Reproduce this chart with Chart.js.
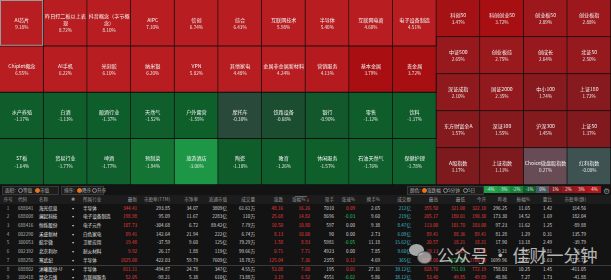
<!DOCTYPE html>
<html>
<head>
<meta charset="utf-8">
<script src="https://cdn.jsdelivr.net/npm/chart.js@4.4.0/dist/chart.umd.min.js"></script>
<style>
  body { margin:0; width:611px; height:280px; overflow:hidden; background:#131313; font-family:"Noto Sans CJK SC", sans-serif; position:relative; }
  #map { position:absolute; left:0; top:0; }
  .t { position:absolute; white-space:nowrap; font-size:4.6px; line-height:7px; height:7px; color:#d8d8d8; }
  .box { position:absolute; top:186px; height:7px; border:1px solid #383838; background:#1d1d1d; }
  .radio { position:absolute; top:188px; width:3px; height:3px; border:1px solid #8a8a8a; border-radius:50%; }
  .radio.on { background:#e8741c; border-color:#e8741c; }
  .lg { position:absolute; top:186px; width:13px; height:7px; font-size:4.3px; line-height:7px; text-align:center; color:#eee; }
</style>
</head>
<body>
<canvas id="map" width="611" height="185"></canvas>
<div id="table"></div>
<script>
// 板块热力图 (左侧 4 行 x 10 列, 行优先)
const sectorNames = [
  'AI芯片','昨日打二板以上表现','抖音概念（字节概念）','AIPC','信创','综合','互联网技术','半导体','互联网电商','电子设备制造',
  'Chiplet概念','AI手机','光刻胶','纳米银','VPN','其他家电','金属非金属新材料','营销服务','基本金属','贵金属',
  '水产养殖','白酒','酿酒行业','天然气','户外露营','摩托车','铁路设备','银行','零售','饮料',
  'ST板','贸易行业','啤酒','预制菜','旅游酒店','陶瓷','教育','休闲服务','石油天然气','保健护理'
];
const sectorChanges = [
  9.18, 8.72, 8.10, 7.10, 6.74, 6.43, 5.98, 5.40, 4.60, 4.51,
  6.55, 6.22, 6.10, 6.20, 5.82, 4.48, 4.24, 4.13, 3.79, 3.72,
  -1.17, -1.13, -1.37, -1.52, -1.55, -0.30, -0.68, -0.90, -1.12, -1.17,
  -1.64, -1.77, -1.77, -1.94, -3.06, -1.18, -1.26, -1.57, -1.76, -1.78
];
// 指数 (右侧 5 行 x 4 列)
const indexNames = [
  '科创50','科创创业50','创业板50','创业板指',
  '中证500','创业板综','创成长','北证50',
  '深证成指','国证2000','中小100','上证180',
  '东方财富全A','深证100','沪深300','上证50',
  'A股指数','上证指数','Choice微盘股指数','红利指数'
];
const indexChanges = [
  3.47, 3.72, 2.89, 2.88,
  2.65, 2.75, 2.64, 2.50,
  2.10, 2.35, 1.74, 1.72,
  1.57, 1.55, 1.45, 1.37,
  1.17, 1.11, 0.27, -0.08
];
const legendTicks = ['-4%','-3%','-2%','-1%','0%','1%','2%','3%','4%'];
const legendValues = [-4, -3, -2, -1, 0, 1, 2, 3, 4];

// 个股列表
const codes = ['688041','688008','688416','002290','300053','002392','688256','688802','300418'];
const stockNames = ['海光信息','澜起科技','恒烁股份','禾盛新材','航宇微','北京利尔','寒武纪','沐曦股份-U','昆仑万维'];
const industries = ['半导体','电子设备制造','电子元件','白色家电','卫星应用','耐火材料','半导体','半导体','互联网服务'];
const latest = [344.41, 198.98, 107.73, 89.41, 19.48, 9.92, 1825.00, 811.11, 52.05];
const peTTM = ['293.85','95.09','-304.68','142.64','-37.59','26.17','422.03','-494.87','-98.21'];
const pb = ['34.07','11.67','6.72','21.94','9.60','1.88','59.79','24.78','5.38'];
const floatCap = ['3809亿','2283亿','89.42亿','222亿','125亿','119亿','7609亿','347亿','610亿'];
const volume = ['61.61万','110万','7.79万','6.74万','79.29万','99.66万','18.78万','4.55万','73.88万'];
const change = [48.16, 25.68, 10.50, 8.13, 1.58, 0.71, 125.04, 53.08, 3.19];
const changePct = [16.26, 14.82, 10.80, 10.00, 8.83, 7.71, 7.36, 7.00, 6.52];
const lastHand = ['7010','8696','597','90','5981','4923','2355','195','4551'];
const speed = [0.09, -0.03, 0.00, 0.00, -0.05, 0.00, 0.12, 0.01, -0.02];
const turnover = ['2.65','9.60','9.38','2.73','11.18','7.85','4.69','27.31','5.86'];
const amount = ['212亿','219亿','8.47亿','6.09亿','15.62亿','9.60亿','365亿','39.12亿','38.12亿'];
const high = [355.50, 205.17, 113.00, 89.41, 20.57, 10.13, 1888.00, 828.70, 53.40];
const low = [321.00, 180.01, 101.70, 88.36, 18.21, 9.25, 1676.00, 751.03, 49.85];
const open = [322.10, 190.30, 103.00, 89.41, 18.21, 9.30, 1706.00, 772.19, 49.89];
const prevClose = [296.25, 173.30, 97.23, 81.28, 17.90, 9.21, 1699.96, 758.03, 48.86];
const amplitude = ['11.65','14.52','11.62','1.29','13.18','9.45','12.47','10.25','7.27'];
const volRatio = ['1.42','1.69','1.25','0.31','2.49','2.81','1.63','1.45','1.73'];
const peStatic = ['314.56','182.04','-89.88','135.79','-39.79','26.83','4775.72','-411.05','-41.88'];

// 涨跌幅 -> 颜色
const colorStops = [
  [-4, [31,160,74]], [-3, [29,150,70]], [-2, [22,130,58]], [-1.85, [15,96,44]],
  [-1, [14,92,42]], [-0.6, [30,74,50]], [-0.2, [45,74,60]], [0, [74,88,96]],
  [0.3, [106,74,84]], [1, [122,26,30]], [2, [140,26,30]], [3, [158,24,28]],
  [3.8, [168,14,18]], [4.2, [184,30,33]]
];
function heatColor(v) {
  if (v <= colorStops[0][0]) return 'rgb(' + colorStops[0][1].join(',') + ')';
  for (let i = 1; i < colorStops.length; i++) {
    if (v <= colorStops[i][0]) {
      const [a, ca] = colorStops[i - 1], [b, cb] = colorStops[i];
      const t = (v - a) / (b - a);
      return 'rgb(' + ca.map((c, k) => Math.round(c + (cb[k] - c) * t)).join(',') + ')';
    }
  }
  return 'rgb(' + colorStops[colorStops.length - 1][1].join(',') + ')';
}

// 数据集: 每行一个, 左侧 10 列每格 5 单位高, 右侧 4 列每格 4 单位高 (总高 20)
const columnLabels = Array.from({length: 14}, (_, i) => 'c' + i);
const datasets = [];
for (let r = 0; r < 5; r++) {
  const data = [], colors = [], cells = [];
  for (let c = 0; c < 14; c++) {
    if (c < 10) {
      if (r < 4) {
        const k = r * 10 + c;
        data.push([20 - 5 * (r + 1), 20 - 5 * r]);
        colors.push(heatColor(sectorChanges[k]));
        cells.push({name: sectorNames[k], value: sectorChanges[k], selected: k === 0});
      } else { data.push(null); colors.push('transparent'); cells.push(null); }
    } else {
      const k = r * 4 + (c - 10);
      data.push([20 - 4 * (r + 1), 20 - 4 * r]);
      colors.push(heatColor(indexChanges[k]));
      cells.push({name: indexNames[k], value: indexChanges[k]});
    }
  }
  datasets.push({
    data, cells,
    backgroundColor: colors,
    borderColor: '#0e0e0e',
    borderWidth: {top: 0, right: 1, bottom: 1, left: 0},
    borderSkipped: false,
    grouped: false,
    barPercentage: 1,
    categoryPercentage: 1
  });
}

function wrapText(ctx, text, maxW) {
  const lines = [];
  let cur = '';
  for (const ch of text) {
    if (ctx.measureText(cur + ch).width > maxW && cur) { lines.push(cur); cur = ch; }
    else cur += ch;
  }
  if (cur) lines.push(cur);
  return lines;
}

const cellLabels = {
  id: 'cellLabels',
  afterDatasetsDraw(chart) {
    const ctx = chart.ctx;
    chart.data.datasets.forEach((ds, di) => {
      chart.getDatasetMeta(di).data.forEach((bar, i) => {
        const cell = ds.cells[i];
        if (!cell) return;
        const p = bar.getProps(['x', 'y', 'base', 'width'], true);
        const top = Math.min(p.y, p.base), bottom = Math.max(p.y, p.base);
        const cy = (top + bottom) / 2;
        ctx.save();
        if (cell.selected) {
          ctx.strokeStyle = '#9a9a9a';
          ctx.lineWidth = 1;
          ctx.strokeRect(p.x - p.width / 2 + 0.5, top + 0.5, p.width - 1.5, bottom - top - 1.5);
        }
        ctx.textAlign = 'center';
        ctx.textBaseline = 'middle';
        ctx.fillStyle = '#f2f2f2';
        ctx.font = '5.1px "Noto Sans CJK SC"';
        const lines = wrapText(ctx, cell.name, p.width - 1);
        const block = lines.length * 7 + 7;
        let y = cy - block / 2 + 3.5;
        lines.forEach(l => { ctx.fillText(l, p.x, y); y += 7; });
        ctx.font = '4.6px "Noto Sans CJK SC"';
        ctx.fillStyle = '#e6e6e6';
        ctx.fillText(cell.value.toFixed(2) + '%', p.x, y + 0.5);
        ctx.restore();
      });
    });
  }
};

new Chart(document.getElementById('map'), {
  type: 'bar',
  data: { labels: columnLabels, datasets },
  options: {
    responsive: false,
    animation: false,
    layout: { padding: 0 },
    plugins: { legend: { display: false }, tooltip: { enabled: false } },
    scales: {
      x: { display: false },
      y: { display: false, min: 0, max: 20 }
    }
  },
  plugins: [cellLabels]
});

// 表格部分
const root = document.getElementById('table');
function put(text, x, cy, align, color, extra) {
  const d = document.createElement('div');
  d.className = 't';
  d.innerHTML = text;
  d.style.top = (cy - 3.5) + 'px';
  if (align === 'right') d.style.right = (611 - x) + 'px';
  else if (align === 'center') { d.style.left = (x - 20) + 'px'; d.style.width = '40px'; d.style.textAlign = 'center'; }
  else d.style.left = x + 'px';
  if (color) d.style.color = color;
  if (extra) Object.assign(d.style, extra);
  root.appendChild(d);
  return d;
}
function block(cls, style) {
  const d = document.createElement('div');
  d.className = cls;
  Object.assign(d.style, style);
  root.appendChild(d);
  return d;
}

// 工具栏
block('box', {left: '2px', width: '55px'});
block('box', {left: '61px', width: '41px'});
block('box', {left: '407px', width: '75px'});
put('面积:', 5, 190, 'left', '#b0b0b0');
block('radio', {left: '18px'}); put('等值', 23, 190, 'left', '#b0b0b0');
block('radio on', {left: '35px'}); put('市值', 40, 190, 'left', '#b0b0b0');
put('排序:', 64, 190, 'left', '#b0b0b0');
block('radio on', {left: '77px'}); put('降序', 82, 190, 'left', '#b0b0b0');
block('radio', {left: '92px'}); put('升序', 97, 190, 'left', '#b0b0b0');
put('颜色:', 410, 190, 'left', '#b0b0b0');
block('radio on', {left: '422px'}); put('涨跌幅', 427, 190, 'left', '#b0b0b0');
block('radio', {left: '443px'}); put('5分钟', 448, 190, 'left', '#b0b0b0');
block('radio', {left: '463px'}); put('5日', 468, 190, 'left', '#b0b0b0');
legendTicks.forEach((t, i) => {
  const d = block('lg', {left: (484 + i * 13) + 'px', background: heatColor(legendValues[i])});
  d.textContent = t;
});
put('⚙', 606, 190, 'center', '#8a8a8a', {fontSize: '8px'});

// 表头
block('', {position: 'absolute', left: '0', top: '195px', width: '611px', height: '9px', background: '#1c1c1c'});
const upDown = (v, ref) => v > ref ? '#ec3b3b' : (v < ref ? '#2bc25a' : '#d8d8d8');
const columns = [
  {h: '序号', x: 8, a: 'center', v: i => String(i + 1), c: () => '#a0a0a0'},
  {h: '代码', x: 18, a: 'left', v: i => codes[i], c: () => '#b8b8b8'},
  {h: '名称', x: 39, a: 'left', v: i => stockNames[i], c: () => '#ececec'},
  {h: '✱', x: 73, a: 'center', v: () => '▪', c: () => '#e0e0e0'},
  {h: '所属行业', x: 83, a: 'left', v: i => industries[i], c: () => '#e0e0e0'},
  {h: '最新', x: 137, a: 'right', v: i => latest[i].toFixed(2), c: i => upDown(latest[i], prevClose[i])},
  {h: '市盈率(TTM)', x: 170, a: 'right', v: i => peTTM[i]},
  {h: '市净率', x: 198, a: 'right', v: i => pb[i]},
  {h: '流通市值', x: 227, a: 'right', v: i => floatCap[i]},
  {h: '成交量', x: 255, a: 'right', v: i => volume[i]},
  {h: '涨跌', x: 283, a: 'right', v: i => change[i].toFixed(2), c: i => upDown(change[i], 0)},
  {h: '涨幅%<span style="color:#e8741c">↓</span>', x: 310, a: 'right', v: i => changePct[i].toFixed(2), c: i => upDown(changePct[i], 0)},
  {h: '现手', x: 334, a: 'right', v: i => lastHand[i]},
  {h: '涨速%', x: 355, a: 'right', v: i => speed[i].toFixed(2), c: i => upDown(speed[i], 0)},
  {h: '换手%', x: 380, a: 'right', v: i => turnover[i]},
  {h: '成交额', x: 411, a: 'right', v: i => amount[i], c: () => '#3fbccc'},
  {h: '最高', x: 438, a: 'right', v: i => high[i].toFixed(2), c: i => upDown(high[i], prevClose[i])},
  {h: '最低', x: 465, a: 'right', v: i => low[i].toFixed(2), c: i => upDown(low[i], prevClose[i])},
  {h: '今开', x: 486, a: 'right', v: i => open[i].toFixed(2), c: i => upDown(open[i], prevClose[i])},
  {h: '昨收', x: 507, a: 'right', v: i => prevClose[i].toFixed(2)},
  {h: '振幅%', x: 530, a: 'right', v: i => amplitude[i]},
  {h: '量比', x: 552, a: 'right', v: i => volRatio[i]},
  {h: '市盈率(静)', x: 586, a: 'right', v: i => peStatic[i]}
];
columns.forEach(col => put(col.h, col.x, 199.5, col.a, '#9a9a9a'));
block('', {position: 'absolute', left: '295px', top: '196px', width: '12px', height: '1px', background: '#666'});
for (let i = 0; i < codes.length; i++) {
  const cy = 208.1 + i * 8.7;
  columns.forEach(col => put(col.v(i), col.x, cy, col.a, col.c ? col.c(i) : '#d8d8d8'));
}
block('', {position: 'absolute', left: '0', top: '265px', width: '611px', height: '1px', background: '#3a3a3a'});

// 水印
block('', {position: 'absolute', left: '409px', top: '244px', width: '15px', height: '12px', borderRadius: '50%', background: 'rgba(225,225,225,0.72)'});
block('', {position: 'absolute', left: '417px', top: '251px', width: '13px', height: '11px', borderRadius: '50%', background: 'rgba(200,200,200,0.72)', border: '1px solid rgba(40,40,40,0.6)'});
put('公众号 · 佳财一分钟', 437, 255, 'left', 'rgba(228,228,228,0.78)', {fontSize: '17px', lineHeight: '20px', height: '20px', top: '245px'});
</script>
</body>
</html>
